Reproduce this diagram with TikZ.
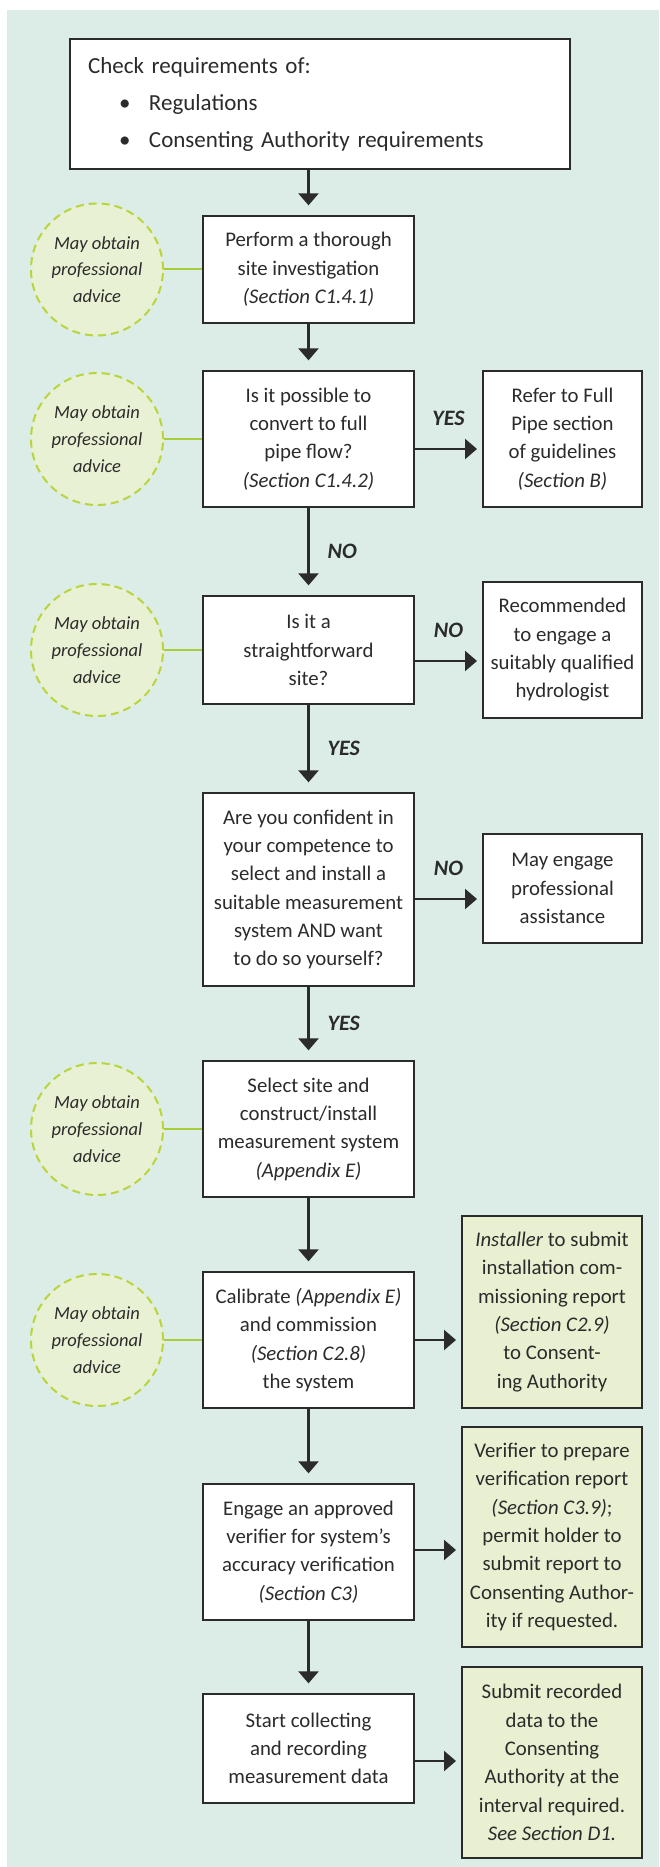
\documentclass[tikz,border=0pt]{standalone}
\usepackage{fontspec}
\setmainfont{Carlito}
\usetikzlibrary{arrows.meta,positioning}

\definecolor{panel}{HTML}{DBEDE6}
\definecolor{advfill}{HTML}{E8F1D3}
\definecolor{advring}{HTML}{B9D53E}
\definecolor{advwire}{HTML}{A9CD3A}
\definecolor{notefill}{HTML}{E9F0D2}
\definecolor{ink}{HTML}{2B2B2B}

\newcommand\stepfont{\fontsize{20.8}{28.3}\selectfont}
\newcommand\checkfont{\fontsize{23}{37}\selectfont}
\newcommand\advicefont{\fontsize{18.5}{26.7}\selectfont}

\tikzset{
  stepbox/.style={draw=ink, line width=1.3pt, fill=white, text=ink, align=center,
    inner sep=0pt, minimum width=211pt, font=\stepfont},
  sidebox/.style={stepbox, minimum width=159pt},
  notebox/.style={stepbox, fill=notefill, minimum width=180pt},
  advice/.style={circle, draw=advring, fill=advfill, line width=2pt,
    dash pattern=on 8pt off 5pt, minimum size=132pt, inner sep=0pt,
    align=center, text=ink, font=\advicefont\itshape},
  flow/.style={color=ink, line width=2.4pt, -{Triangle[width=20pt,length=12pt]},
    shorten >=10pt},
  lbl/.style={text=ink, font=\fontsize{22}{26}\selectfont\bfseries\itshape, inner sep=2pt},
  advlink/.style={color=advwire, line width=2pt}
}

\begin{document}
\begin{tikzpicture}[x=1pt,y=-1pt]
    \useasboundingbox (0,0) rectangle (659,1867);
    \fill[panel] (7,10) rectangle (659,1867);

    \node[stepbox, minimum width=500pt, minimum height=130pt, text width=464pt,
      align=left, font=\checkfont] (check) at (320,104)
      {Check requirements of:\\
       \makebox[61pt][l]{\hspace*{31pt}\textbullet}Regulations\\
       \makebox[61pt][l]{\hspace*{31pt}\textbullet}Consenting Authority requirements};

    \node[stepbox, minimum height=107pt] (site) at (308.5,269.5)
      {Perform a thorough\\site investigation\\\textit{(Section C1.4.1)}};
    \node[stepbox, minimum height=136pt] (convert) at (308.5,439)
      {Is it possible to\\convert to full\\pipe flow?\\\textit{(Section C1.4.2)}};
    \node[stepbox, minimum height=108pt] (straight) at (308.5,650)
      {Is it a\\straightforward\\site?};
    \node[stepbox, minimum height=193pt] (confident) at (308.5,889.5)
      {Are you confident in\\your competence to\\select and install a\\suitable measurement\\system AND want\\to do so yourself?};
    \node[stepbox, minimum height=136pt] (select) at (308.5,1129)
      {Select site and\\construct/install\\measurement system\\\textit{(Appendix E)}};
    \node[stepbox, minimum height=136pt] (calibrate) at (308.5,1340)
      {Calibrate \textit{(Appendix E)}\\and commission\\\textit{(Section C2.8)}\\the system};
    \node[stepbox, minimum height=136pt] (engage) at (308.5,1552)
      {Engage an approved\\verifier for system’s\\accuracy verification\\\textit{(Section C3)}};
    \node[stepbox, minimum height=109pt] (start) at (308.5,1748.5)
      {Start collecting\\and recording\\measurement data};

    \node[sidebox, minimum height=136pt] (pipe) at (562.5,439)
      {Refer to Full\\Pipe section\\of guidelines\\\textit{(Section B)}};
    \node[sidebox, minimum height=136pt] (hydro) at (562.5,650)
      {Recommended\\to engage a\\suitably qualified\\hydrologist};
    \node[sidebox, minimum height=109pt] (assist) at (562.5,888.5)
      {May engage\\professional\\assistance};
    \node[notebox, minimum height=192pt] (installer) at (552,1312)
      {\textit{Installer} to submit\\installation com-\\missioning report\\\textit{(Section C2.9)}\\to Consent-\\ing Authority};
    \node[notebox, minimum height=220pt] (verifier) at (552,1537)
      {Verifier to prepare\\verification report\\\textit{(Section C3.9)};\\permit holder to\\submit report to\\Consenting Author-\\ity if requested.};
    \node[notebox, minimum height=191pt] (submit) at (552,1762.5)
      {Submit recorded\\data to the\\Consenting\\Authority at the\\interval required.\\\textit{See Section D1.}};

    \node[advice] (adv1) at (97,269.5) {May obtain\\professional\\advice};
    \node[advice] (adv2) at (97,439) {May obtain\\professional\\advice};
    \node[advice] (adv3) at (97,650) {May obtain\\professional\\advice};
    \node[advice] (adv5) at (97,1129) {May obtain\\professional\\advice};
    \node[advice] (adv6) at (97,1340) {May obtain\\professional\\advice};

    \coordinate (checkout) at (308.5,169);
    \coordinate (pipeout) at (414,449);
    \coordinate (hydroout) at (414,661);
    \coordinate (assistout) at (414,899);
    \coordinate (installout) at (414,1340);
    \coordinate (verifyout) at (414,1550);
    \coordinate (submitout) at (414,1761);
    \coordinate (pipein) at (483,449);
    \coordinate (hydroin) at (483,661);
    \coordinate (assistin) at (483,899);
    \coordinate (installin) at (462,1340);
    \coordinate (verifyin) at (462,1550);
    \coordinate (submitin) at (462,1761);

    \path[advlink]
        (adv1) edge (site)
        (adv2) edge (convert)
        (adv3) edge (straight)
        (adv5) edge (select)
        (adv6) edge (calibrate);

    \path[flow]
        (checkout) edge (site)
        (site) edge (convert)
        (convert) edge node[lbl,right=16pt] {NO} (straight)
        (straight) edge node[lbl,right=16pt] {YES} (confident)
        (confident) edge node[lbl,right=16pt] {YES} (select)
        (select) edge (calibrate)
        (calibrate) edge (engage)
        (engage) edge (start);

    \path[flow, shorten >=6pt]
        (pipeout) edge node[lbl,above=20pt] {YES} (pipein)
        (hydroout) edge node[lbl,above=20pt] {NO} (hydroin)
        (assistout) edge node[lbl,above=20pt] {NO} (assistin)
        (installout) edge (installin)
        (verifyout) edge (verifyin)
        (submitout) edge (submitin);
\end{tikzpicture}
\end{document}
